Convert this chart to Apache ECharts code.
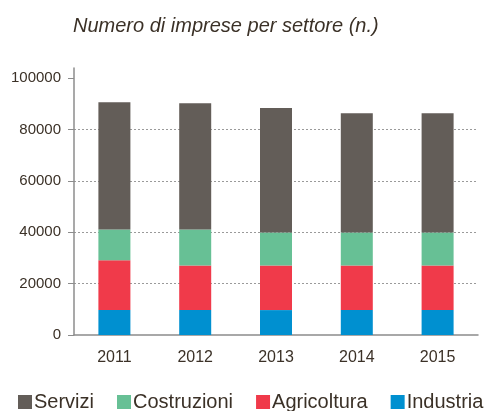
<!DOCTYPE html>
<html>
<head>
<meta charset="utf-8">
<script src="https://cdn.jsdelivr.net/npm/echarts@6/dist/echarts.min.js"></script>
<style>
  html, body { margin: 0; padding: 0; background: #fff; }
  #chart { width: 489px; height: 411px; }
</style>
</head>
<body>
<div id="chart"></div>
<script>
const years = ["2011", "2012", "2013", "2014", "2015"];
const industria = [9700, 9700, 9700, 9700, 9700];
const agricoltura = [19400, 17400, 17400, 17400, 17400];
const costruzioni = [12000, 14000, 12800, 12800, 12800];
const servizi = [49600, 49200, 48500, 46500, 46500];
const yTicks = [0, 20000, 40000, 60000, 80000, 100000];

const textColor = "#3b3127";
const axisColor = "#8c8c8c";
const font = "Liberation Sans";

function stackSeries(name, data, color) {
  return {
    name,
    type: "bar",
    stack: "totale",
    barWidth: 32,
    data,
    itemStyle: { color },
  };
}

const chart = echarts.init(document.getElementById("chart"));
chart.setOption({
  animation: false,
  textStyle: { fontFamily: font },
  title: {
    text: "Numero di imprese per settore (n.)",
    left: 68,
    top: 11,
    textStyle: { fontFamily: font, fontSize: 20, fontStyle: "italic", fontWeight: "normal", color: textColor },
  },
  legend: {
    data: ["Servizi", "Costruzioni", "Agricoltura", "Industria"],
    left: 13,
    top: 387,
    icon: "rect",
    itemWidth: 14,
    itemHeight: 14,
    itemGap: 23,
    textStyle: { fontFamily: font, fontSize: 20, color: textColor, padding: [0, 0, 0, -3] },
  },
  grid: { left: 74, right: 11, top: 68, bottom: 76 },
  xAxis: {
    type: "category",
    data: years,
    axisLine: { lineStyle: { color: axisColor, width: 1.5 } },
    axisTick: { length: 7, lineStyle: { color: axisColor, width: 1.5 } },
    axisLabel: { fontFamily: font, fontSize: 16, color: textColor, margin: 15 },
  },
  yAxis: {
    type: "value",
    min: 0,
    max: 104000,
    interval: 20000,
    axisLine: { show: true, lineStyle: { color: axisColor, width: 1.5 } },
    axisTick: { show: true, length: 6, customValues: yTicks, lineStyle: { color: axisColor, width: 1 } },
    axisLabel: {
      fontFamily: font,
      fontSize: 15,
      color: textColor,
      margin: 13,
      customValues: yTicks,
      formatter: (value) => String(value),
    },
    splitLine: { showMinLine: false, showMaxLine: false, lineStyle: { color: "#9a9a9a", type: [2, 2], width: 1 } },
  },
  series: [
    stackSeries("Industria", industria, "#0090d0"),
    stackSeries("Agricoltura", agricoltura, "#f03a4a"),
    stackSeries("Costruzioni", costruzioni, "#67c095"),
    stackSeries("Servizi", servizi, "#635d58"),
  ],
});
</script>
</body>
</html>
